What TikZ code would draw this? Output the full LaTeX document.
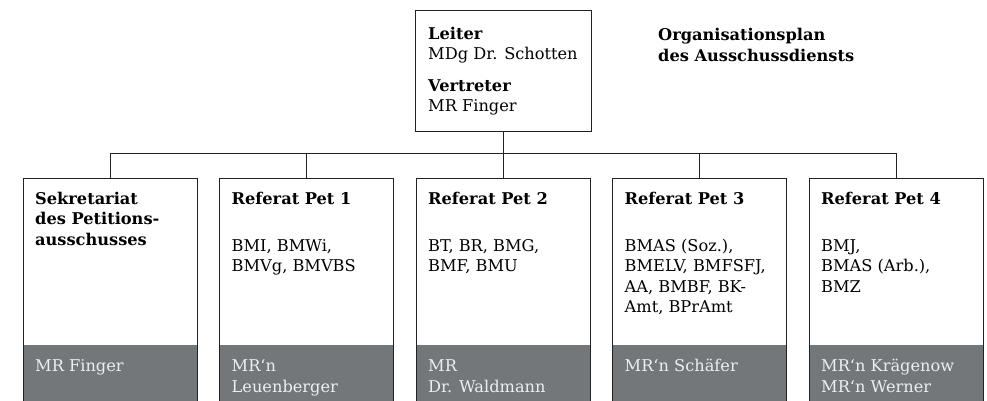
\documentclass[tikz,border=0pt]{standalone}
\usepackage{fontspec}
\setmainfont{DejaVu Serif}
\definecolor{bandgray}{RGB}{115,119,122}
\definecolor{linecol}{RGB}{34,34,34}
\definecolor{bandtext}{RGB}{238,238,238}
\begin{document}
\begin{tikzpicture}[x=1bp,y=-1bp,
  unitbox/.style={draw=linecol, line width=0.9bp, minimum width=174bp, minimum height=240bp, inner sep=0pt, outer sep=0pt, anchor=north west},
  bandbox/.style={fill=bandgray, minimum width=174bp, minimum height=70bp, inner sep=0pt, outer sep=0pt, anchor=north west},
  leadbox/.style={draw=linecol, line width=0.9bp, minimum width=176bp, minimum height=121bp, inner sep=0pt, outer sep=0pt, anchor=north west},
  txt/.style={anchor=base west, inner sep=0pt, align=left, font=\fontsize{16.2bp}{20.5bp}\selectfont},
  head/.style={txt, font=\fontsize{16.2bp}{20.5bp}\selectfont\bfseries},
  wtxt/.style={txt, text=bandtext},
  conn/.style={draw=linecol, line width=0.9bp}
]
\useasboundingbox (0,0) rectangle (987,400);
% bands
\node[bandbox] (g1) at (23,345) {};
\node[bandbox] (g2) at (219.5,345) {};
\node[bandbox] (g3) at (416,345) {};
\node[bandbox] (g4) at (612.5,345) {};
\node[bandbox] (g5) at (809,345) {};
% boxes
\node[leadbox] (top) at (415,10) {};
\node[unitbox] (b1) at (23,178) {};
\node[unitbox] (b2) at (219.5,178) {};
\node[unitbox] (b3) at (416,178) {};
\node[unitbox] (b4) at (612.5,178) {};
\node[unitbox] (b5) at (809,178) {};
% connectors
\coordinate (bus) at (503,153);
\draw[conn] (top.south) -- (top.south |- bus);
\draw[conn] (b1.north) -- (b1.north |- bus) -- (b5.north |- bus) -- (b5.north);
\draw[conn] (b2.north) -- (b2.north |- bus);
\draw[conn] (b3.north) -- (b3.north |- bus);
\draw[conn] (b4.north) -- (b4.north |- bus);
% top texts (anchor = baseline of last line)
\node[head] (tl1) at (428,39) {Leiter};
\node[txt] (tl2) at (428,59.5) {MDg Dr. Schotten};
\node[head] (tl3) at (428,91) {Vertreter};
\node[txt] (tl4) at (428,111.5) {MR Finger};
\node[head] (title) at (658,61) {Organisationsplan\\des Ausschussdiensts};
% box headings
\node[head] (h1) at (35,245) {Sekretariat\\des Petitions-\\ausschusses};
\node[head] (h2) at (231.5,204) {Referat Pet 1};
\node[head] (h3) at (428,204) {Referat Pet 2};
\node[head] (h4) at (624.5,204) {Referat Pet 3};
\node[head] (h5) at (821,204) {Referat Pet 4};
% box contents
\node[txt] (c2) at (231.5,271.5) {BMI, BMWi,\\BMVg, BMVBS};
\node[txt] (c3) at (428,271.5) {BT, BR, BMG,\\BMF, BMU};
\node[txt] (c4) at (624.5,312.5) {BMAS (Soz.),\\BMELV, BMFSFJ,\\AA, BMBF, BK-\\Amt, BPrAmt};
\node[txt] (c5) at (821,292) {BMJ,\\BMAS (Arb.),\\BMZ};
% band texts
\node[wtxt] (w1) at (35,371) {MR Finger};
\node[wtxt] (w2) at (231.5,392) {MR‘n\\Leuenberger};
\node[wtxt] (w3) at (428,392) {MR\\Dr. Waldmann};
\node[wtxt] (w4) at (624.5,371) {MR‘n Schäfer};
\node[wtxt] (w5) at (821,392) {MR‘n Krägenow\\MR‘n Werner};
\end{tikzpicture}
\end{document}
